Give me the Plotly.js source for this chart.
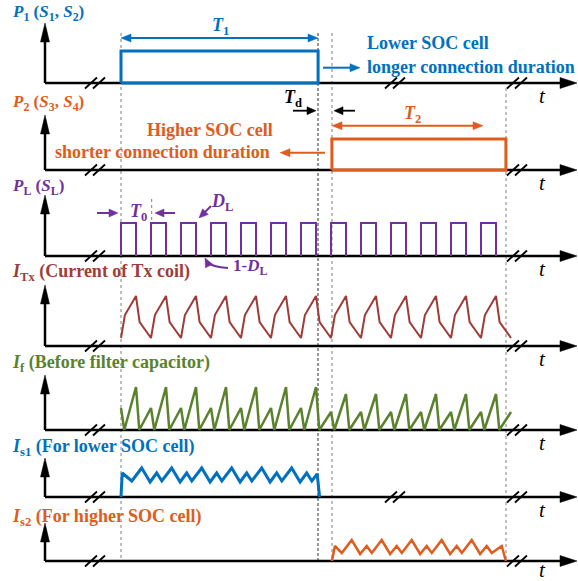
<!DOCTYPE html>
<html><head><meta charset="utf-8">
<script src="https://cdn.plot.ly/plotly-3.0.1.min.js"></script>
<style>html,body{margin:0;padding:0;background:#fff}#chart{width:578px;height:581px}</style>
</head><body><div id="chart"></div>
<script>
// ---- data: time in units of the load period T0 (t = 0 at first pulse) ----
const rowLabels = [
  '<b><i>P</i><sub>1</sub> (<i>S</i><sub>1</sub>, <i>S</i><sub>2</sub>)</b>',
  '<b><i>P</i><sub>2</sub> (<i>S</i><sub>3</sub>, <i>S</i><sub>4</sub>)</b>',
  '<b><i>P</i><sub>L</sub> (<i>S</i><sub>L</sub>)</b>',
  '<b><i>I</i><sub>Tx</sub> (Current of Tx coil)</b>',
  '<b><i>I</i><sub>f</sub> (Before filter capacitor)</b>',
  '<b><i>I</i><sub>s1</sub> (For lower SOC cell)</b>',
  '<b><i>I</i><sub>s2</sub> (For higher SOC cell)</b>'
];
const p1T = [0, 0, 6.57, 6.57, 0];
const p1V = [0, 32, 32, 0, 0];
const p2T = [7.03, 7.03, 12.83, 12.83, 7.03];
const p2V = [0, 31, 31, 0, 0];
const plRise = [0,1,2,3,4,5,6,7,8,9,10,11,12];
const plFall = [0.5,1.5,2.5,3.5,4.5,5.5,6.5,7.5,8.5,9.5,10.5,11.5,12.5];
const plHigh = 33;
const itxT = [0,0.13,0.5,0.62, 1,1.13,1.5,1.62, 2,2.13,2.5,2.62, 3,3.13,3.5,3.62,
  4,4.13,4.5,4.62, 5,5.13,5.5,5.62, 6,6.13,6.5,6.62, 7,7.13,7.5,7.62, 8,8.13,8.5,8.62,
  9,9.13,9.5,9.62, 10,10.13,10.5,10.62, 11,11.13,11.5,11.62, 12,12.13,12.5,12.62, 13];
const itxV = [8,31,50,24, 8,31,50,24, 8,31,50,24, 8,31,50,24, 8,31,50,24, 8,31,50,24,
  8,31,50,24, 8,31,50,24, 8,31,50,24, 8,31,50,24, 8,31,50,24, 8,31,50,24, 8,31,50,24, 8];
const ifT = [0,0.11,0.5,0.61, 1,1.11,1.5,1.61, 2,2.11,2.5,2.61, 3,3.11,3.5,3.61,
  4,4.11,4.5,4.61, 5,5.11,5.5,5.61, 6,6.11,6.5,6.61, 7,7.11,7.5,7.61, 8,8.11,8.5,8.61,
  9,9.11,9.5,9.61, 10,10.11,10.5,10.61, 11,11.11,11.5,11.61, 12,12.11,12.5,12.61, 13];
const ifV = [22,0,43,0, 22,0,43,0, 22,0,43,0, 22,0,43,0, 22,0,43,0, 22,0,43,0, 22,0,43,0,
  18,0,36,0, 18,0,36,0, 18,0,36,0, 18,0,36,0, 18,0,36,0, 18,0,36,0, 18];
const is1T = [0,0.04,0.36,0.69,0.97,1.19,1.36,1.69,1.97,2.19,2.36,2.69,2.97,3.19,3.36,3.69,
  3.97,4.19,4.36,4.69,4.97,5.19,5.36,5.69,5.97,6.19,6.36,6.54,6.62];
const is1V = [0,24,16,29,15,24,16,29,15,24,16,29,15,24,16,29,15,24,16,29,15,24,16,29,15,24,16,23,0];
const is2T = [7.03,7.13,7.36,7.69,7.97,8.19,8.36,8.69,8.97,9.19,9.36,9.69,9.97,10.19,10.36,10.69,
  10.97,11.19,11.36,11.69,11.97,12.19,12.36,12.69,12.83];
const is2V = [0,15,8,21,7,15,8,21,7,15,8,21,7,15,8,21,7,15,8,21,7,15,8,15,0];

// ---- geometry ----
const W = 578, H = 581;
const baseY = [83, 170, 256, 346, 430, 497, 561];
const topY  = [23, 115, 195, 285, 375, 458, 523];
const labelY = [13, 103, 187, 272, 363, 447, 517];
const labelSize = [17, 17, 17, 18, 18, 18, 18];
const axisX0 = 45, axisX1 = 577;
const breakMid = [true, false, false, false, false, true, false];
const BLUE = '#0070C0', ORANGE = '#E05C1C', PURPLE = '#7030A0', BROWN = '#9E3D38', GREEN = '#5A822D';
const rowColors = [BLUE, ORANGE, PURPLE, BROWN, GREEN, BLUE, ORANGE];
const FONT = 'Liberation Serif, Times New Roman, serif';
const t0px = 121, perPx = 30;

const px = x => x / W, py = y => 1 - y / H;

// PL pulses built from rise/fall times
const plT = [], plV = [];
plRise.forEach((r, i) => { plT.push(r, r, plFall[i], plFall[i], null); plV.push(0, plHigh, plHigh, 0, null); });

const series = [[p1T,p1V,3],[p2T,p2V,3],[plT,plV,2],[itxT,itxV,2],[ifT,ifV,2.5],[is1T,is1V,3],[is2T,is2V,2.5]];
const data = series.map((s, i) => ({
  type: 'scatter', mode: 'lines', x: s[0], y: s[1], connectgaps: false,
  xaxis: 'x', yaxis: i === 0 ? 'y' : 'y' + (i + 1),
  line: {color: rowColors[i], width: s[2], shape: 'linear'}, hoverinfo: 'skip', showlegend: false
}));

const layout = {
  width: W, height: H, margin: {l: 0, r: 0, t: 0, b: 0},
  paper_bgcolor: '#fff', plot_bgcolor: 'rgba(0,0,0,0)', showlegend: false,
  font: {family: FONT},
  xaxis: {range: [-t0px / perPx, (W - t0px) / perPx], visible: false, fixedrange: true},
  shapes: [], annotations: []
};
baseY.forEach((b, i) => {
  layout[i === 0 ? 'yaxis' : 'yaxis' + (i + 1)] = {
    domain: [1 - (b + 20) / H, 1 - (b - 70) / H], range: [-20, 70], visible: false, fixedrange: true, anchor: 'x'
  };
});

const S = layout.shapes, A = layout.annotations;
function line(x1, y1, x2, y2, color, width, dash, layer) {
  S.push({type: 'line', xref: 'paper', yref: 'paper', x0: px(x1), y0: py(y1), x1: px(x2), y1: py(y2),
    line: {color, width, dash: dash || 'solid'}, layer: layer || 'above'});
}
function head(x, y, dx, dy, len, wid, color, layer) {
  const n = Math.hypot(dx, dy), ux = dx / n, uy = dy / n;
  const bx = x - ux * len, by = y - uy * len;
  const p1 = [bx - uy * wid / 2, by + ux * wid / 2], p2 = [bx + uy * wid / 2, by - ux * wid / 2];
  S.push({type: 'path', xref: 'paper', yref: 'paper', layer: layer || 'above',
    path: `M${px(x)},${py(y)} L${px(p1[0])},${py(p1[1])} L${px(p2[0])},${py(p2[1])} Z`,
    fillcolor: color, line: {color, width: 0.5}});
}
function arrow(x1, y1, x2, y2, color, width, len, wid, both) {
  const dx = x2 - x1, dy = y2 - y1, n = Math.hypot(dx, dy);
  const sx = both ? x1 + dx / n * len * 0.8 : x1, sy = both ? y1 + dy / n * len * 0.8 : y1;
  line(sx, sy, x2 - dx / n * len * 0.8, y2 - dy / n * len * 0.8, color, width);
  head(x2, y2, dx, dy, len, wid, color);
  if (both) head(x1, y1, -dx, -dy, len, wid, color);
}
function text(x, y, t, color, size, xanchor) {
  A.push({xref: 'paper', yref: 'paper', x: px(x), y: py(y), text: t, showarrow: false,
    xanchor: xanchor || 'left', yanchor: 'middle', font: {family: FONT, size: size || 18, color}});
}

// dashed reference lines
line(121, 33, 121, 561, '#808080', 1, 'dot', 'below');
line(318, 33, 318, 561, '#333333', 1, '3px,2px', 'below');
line(332, 33, 332, 561, '#808080', 1, 'dot', 'below');
line(506, 88, 506, 561, '#808080', 1, 'dot', 'below');
line(151.7, 199, 151.7, 223, '#808080', 1, 'dot', 'below');

// axes
baseY.forEach((b, i) => {
  line(axisX0, b, axisX1 - 14, b, '#000', 2.5, 'solid', 'below');
  head(axisX1, b, 1, 0, 17, 11, '#000', 'below');
  line(axisX0, b, axisX0, topY[i] + 14, '#000', 2.5, 'solid', 'below');
  head(axisX0, topY[i], 0, -1, 19, 9, '#000', 'below');
  const brk = breakMid[i] ? [96, 396, 518] : [96, 518];
  brk.forEach(c => {
    line(c - 11, b + 5.5, c + 1, b - 5.5, '#000', 1.8);
    line(c - 3, b + 5.5, c + 9, b - 5.5, '#000', 1.8);
  });
  text(10, labelY[i], rowLabels[i], rowColors[i], labelSize[i]);
  text(542, b + (i === 6 ? 9 : 13), '<i>t</i>', '#000', 21, 'center');
});

// P1 annotations
arrow(121, 38, 318, 38, BLUE, 2, 10, 8, true);
text(220, 27, '<b><i>T</i><sub>1</sub></b>', BLUE, 18, 'center');
text(365, 43, '<b>Lower SOC cell</b>', BLUE, 18);
text(365, 67, '<b>longer connection duration</b>', BLUE, 18);
arrow(323, 67.7, 360, 67.7, BLUE, 2, 10, 8);
// P2 annotations
text(293, 98, '<b><i>T</i><sub>d</sub></b>', '#000', 18, 'center');
arrow(293, 110.7, 316, 110.7, '#000', 1.8, 9, 8);
arrow(355, 110.7, 334, 110.7, '#000', 1.8, 9, 8);
text(412, 114, '<b><i>T</i><sub>2</sub></b>', ORANGE, 18, 'center');
arrow(332, 125.7, 483, 125.7, ORANGE, 2, 10, 8, true);
text(275, 130, '<b>Higher SOC cell</b>', ORANGE, 18, 'right');
text(272, 152, '<b>shorter connection duration</b>', ORANGE, 18, 'right');
arrow(325, 152.7, 280, 152.7, ORANGE, 2, 10, 8);
// PL annotations
arrow(97, 213, 118, 213, PURPLE, 2, 9, 8);
text(138, 213, '<b><i>T</i><sub>0</sub></b>', PURPLE, 18, 'center');
arrow(175, 213, 155, 213, PURPLE, 2, 9, 8);
text(222, 202, '<b><i>D</i><sub>L</sub></b>', PURPLE, 18, 'center');
arrow(211, 206, 199, 218, PURPLE, 2, 9, 8);
text(231, 267, '<b>1-<i>D</i><sub>L</sub></b>', PURPLE, 17, 'left');
S.push({type: 'path', xref: 'paper', yref: 'paper',
  path: `M${px(228)},${py(268)} Q${px(212)},${py(267)} ${px(207)},${py(262)}`,
  line: {color: PURPLE, width: 2}});
head(205, 258, -0.5, -1, 9, 8, PURPLE);

Plotly.newPlot('chart', data, layout, {staticPlot: true, displayModeBar: false});
</script></body></html>
